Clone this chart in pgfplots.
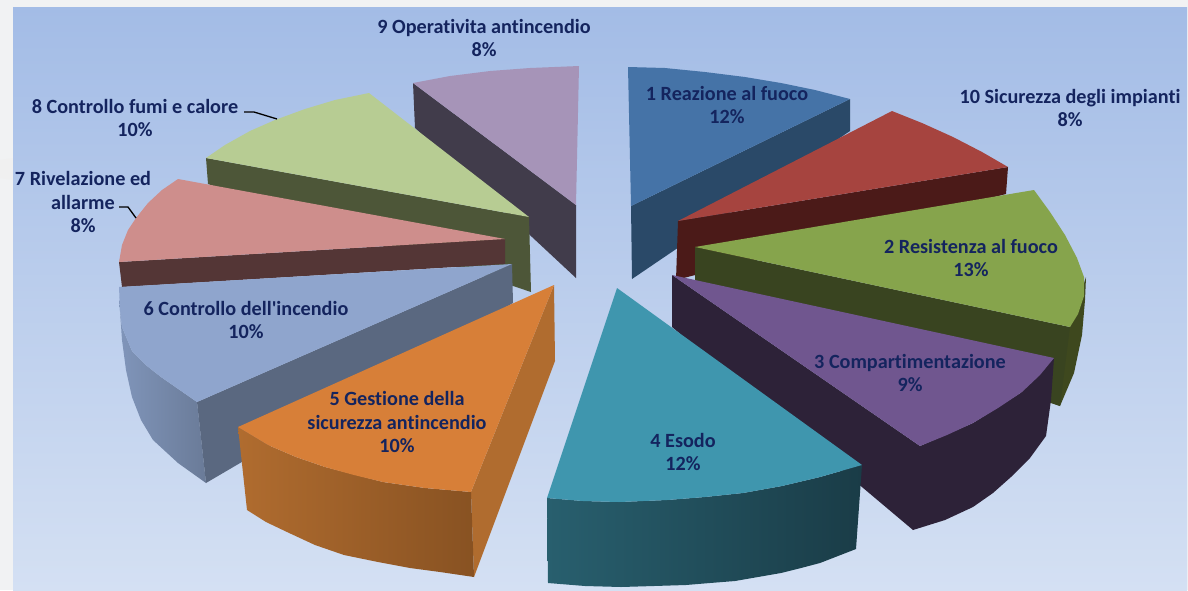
\documentclass[border=0pt]{standalone}
\usepackage{pgfplots}
\pgfplotsset{compat=1.18}
\usepackage{fontspec}
\setmainfont[Ligatures=NoCommon]{Carlito}
\definecolor{lab}{HTML}{14245E}
\definecolor{page}{HTML}{F1F2F3}
\definecolor{HTMLtop}{HTML}{A3BCE6}
\definecolor{HTMLbot}{HTML}{D4E0F3}
\definecolor{sixL}{RGB}{128,149,186}
\definecolor{sixR}{RGB}{106,123,152}
\definecolor{fiveL}{RGB}{176,108,47}
\definecolor{fiveR}{RGB}{136,82,34}
\definecolor{fourL}{RGB}{40,95,110}
\definecolor{fourR}{RGB}{26,60,71}
\tikzset{lbl/.style={font=\fontsize{20.2}{23.5}\selectfont\bfseries,text=lab,align=center,inner sep=0pt}}
\begin{document}
\begin{tikzpicture}
\begin{axis}[width=1188pt,height=590pt,scale only axis,hide axis,
  xmin=0,xmax=1188,ymin=0,ymax=590,y dir=reverse,clip=false]
% page and panel
\addplot[draw=none,fill=page] coordinates {(0,0)(1188,0)(1188,590)(0,590)} -- cycle;
\addplot[draw=none,fill=black!6] coordinates {(0,160)(13,158)(13,180)(0,178)} -- cycle;
\addplot[draw=none,shade,top color=HTMLtop,bottom color=HTMLbot] coordinates {(13,7)(1187,7)(1187,590)(13,590)} -- cycle;
% 9 Operativita antincendio
\addplot[draw=none,fill={rgb,255:red,65;green,60;blue,75}] coordinates {(413,83)(576,205)(576,278)(415,128)} -- cycle;
\addplot[draw=none,fill={rgb,255:red,166;green,148;blue,184}] coordinates {(413,83)(450,76)(490,71)(530,68)(579,66)(576,205)} -- cycle;
% 1 Reazione al fuoco
\addplot[draw=none,fill={rgb,255:red,42;green,73;blue,104}] coordinates {(631,206)(850,99)(850,131)(632,279)} -- cycle;
\addplot[draw=none,fill={rgb,255:red,69;green,115;blue,167}] coordinates {(628,67)(665,68)(705,72)(745,77)(781,83)(815,90)(850,99)(631,206)} -- cycle;
% 8 Controllo fumi e calore
\addplot[draw=none,fill={rgb,255:red,77;green,86;blue,56}] coordinates {(206,158)(529,217)(531,292)(208,184)} -- cycle;
\addplot[draw=none,fill={rgb,255:red,183;green,204;blue,147}] coordinates {(206,158)(225,145)(250,131)(275,120)(305,109)(335,100)(369,93)(529,217)} -- cycle;
% 10 Sicurezza degli impianti
\addplot[draw=none,fill={rgb,255:red,75;green,26;blue,24}] coordinates {(678,221)(1008,167)(1006,194)(676,280)} -- cycle;
\addplot[draw=none,fill={rgb,255:red,166;green,68;blue,63}] coordinates {(678,221)(892,111)(922,123)(953,137)(982,152)(1008,167)} -- cycle;
% 7 Rivelazione ed allarme
\addplot[draw=none,fill={rgb,255:red,84;green,54;blue,54}] coordinates {(119,262)(505,239)(505,264)(122,287)} -- cycle;
\addplot[draw=none,fill={rgb,255:red,206;green,142;blue,140}] coordinates {(119,262)(122,245)(128,230)(136,218)(148,203)(162,190)(178,179)(505,239)} -- cycle;
% 2 Resistenza al fuoco
\addplot[draw=none,fill={rgb,255:red,62;green,72;blue,30}] coordinates {(1086,277)(1085,300)(1082,335)(1074,373)(1060,406)(1030,395)(1070,327)} -- cycle;
\addplot[draw=none,fill={rgb,255:red,57;green,68;blue,32}] coordinates {(695,247)(1070,327)(1060,406)(695,285)} -- cycle;
\addplot[draw=none,fill={rgb,255:red,134;green,164;blue,76}] coordinates {(695,247)(1034,190)(1050,212)(1065,235)(1077,258)(1084,277)(1084,296)(1078,314)(1070,327)} -- cycle;
% 6 Controllo dell'incendio
\addplot[draw=none,shade,left color=sixL,right color=sixR] coordinates {(119,297)(120,310)(122,327)(132,351)(147,366)(161,377)(197,402)(206,483)(178,463)(153,440)(141,420)(132,397)(126,370)(122,340)} -- cycle;
\addplot[draw=none,fill={rgb,255:red,90;green,104;blue,128}] coordinates {(197,402)(512,264)(513,303)(206,483)} -- cycle;
\addplot[draw=none,fill={rgb,255:red,143;green,165;blue,205}] coordinates {(119,287)(512,264)(197,402)(161,377)(147,366)(132,351)(122,327)(120,310)} -- cycle;
% 3 Compartimentazione
\addplot[draw=none,fill={rgb,255:red,45;green,34;blue,56}] coordinates {(672,275)(920,446)(973,423)(1022,392)(1054,358)(1051,400)(1046,436)(1030,458)(1011,477)(993,493)(973,507)(945,520)(913,530)(672,327)} -- cycle;
\addplot[draw=none,fill={rgb,255:red,112;green,86;blue,143}] coordinates {(672,275)(1054,358)(1040,375)(1022,392)(998,408)(973,423)(947,435)(920,446)} -- cycle;
% 5 Gestione della sicurezza antincendio
\addplot[draw=none,fill={rgb,255:red,176;green,108;blue,47}] coordinates {(554,285)(471,492)(474,577)(555,361)} -- cycle;
\addplot[draw=none,shade,left color=fiveL,right color=fiveR] coordinates {(238,427)(268,445)(296,457)(325,467)(383,482)(425,488)(471,492)(474,577)(440,572)(410,568)(378,562)(344,555)(315,545)(287,532)(266,522)(247,510)} -- cycle;
\addplot[draw=none,fill={rgb,255:red,215;green,127;blue,56}] coordinates {(554,285)(471,492)(425,488)(383,482)(354,475)(325,467)(296,457)(268,445)(238,427)} -- cycle;
% 4 Esodo
\addplot[draw=none,shade,left color=fourL,right color=fourR] coordinates {(547,498)(583,501)(619,502)(667,500)(705,497)(743,493)(782,486)(820,477)(862,465)(856,549)(838,556)(820,563)(801,568)(781,573)(758,577)(735,581)(710,583)(686,585)(654,586)(621,587)(585,586)(548,583)} -- cycle;
\addplot[draw=none,fill={rgb,255:red,63;green,150;blue,174}] coordinates {(617,288)(862,465)(820,477)(782,486)(743,493)(705,497)(667,500)(619,502)(583,501)(547,498)} -- cycle;
% leader lines
\addplot[black,line width=1.3pt] coordinates {(244,112)(254,112)(277,119)};
\addplot[black,line width=1.3pt] coordinates {(119,207)(128,207)(136,218)};
% labels
\node[lbl] at (axis cs:484,38) {9 Operativita antincendio\\8\%};
\node[lbl] at (axis cs:135,118) {8 Controllo fumi e calore\\10\%};
\node[lbl] at (axis cs:83,202) {7 Rivelazione ed\\allarme\\8\%};
\node[lbl] at (axis cs:727,105) {1 Reazione al fuoco\\12\%};
\node[lbl] at (axis cs:1070,108) {10 Sicurezza degli impianti\\8\%};
\node[lbl] at (axis cs:971,258) {2 Resistenza al fuoco\\13\%};
\node[lbl] at (axis cs:246,320) {6 Controllo dell\textquotesingle incendio\\10\%};
\node[lbl] at (axis cs:910,373) {3 Compartimentazione\\9\%};
\node[lbl] at (axis cs:397,422) {5 Gestione della\\sicurezza antincendio\\10\%};
\node[lbl] at (axis cs:683,452) {4 Esodo\\12\%};
\end{axis}
\end{tikzpicture}
\end{document}
